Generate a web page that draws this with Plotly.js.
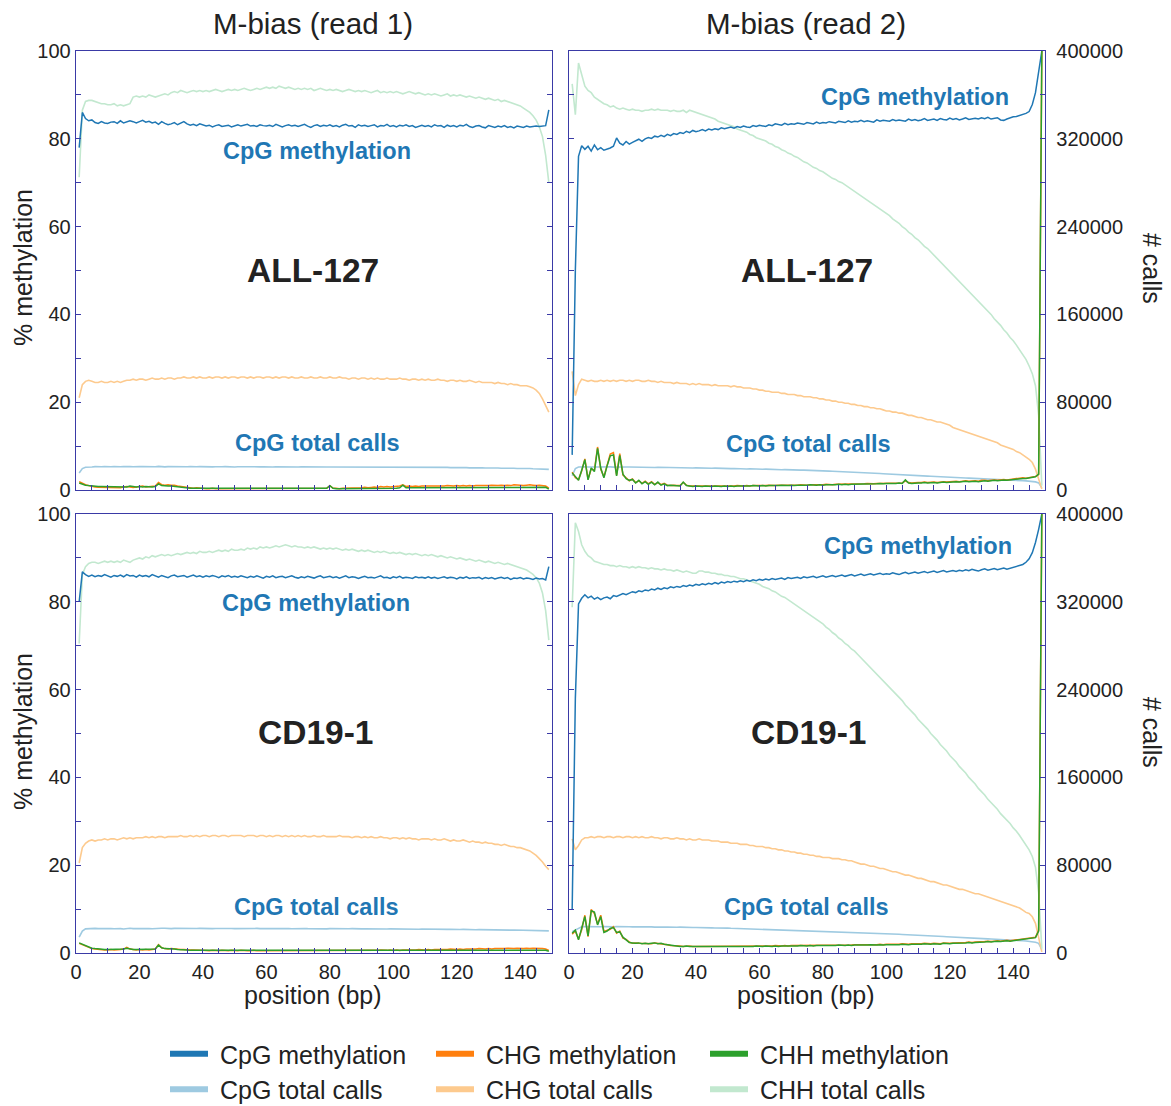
<!DOCTYPE html>
<html>
<head>
<meta charset="utf-8">
<script src="https://cdn.plot.ly/plotly-3.0.1.min.js"></script>
<style>html,body{margin:0;padding:0;background:#fff;}#chart{width:1171px;height:1106px;}</style>
</head>
<body>
<div id="chart"></div>
<script>
// ---------------- DATA ----------------
const positionBp = Array.from({length:149}, (_, i) => i + 1);

const panelTitles = ["M-bias (read 1)", "M-bias (read 2)"];
const sampleNames = ["ALL-127", "CD19-1"];
const seriesNames = ["CpG methylation","CHG methylation","CHH methylation","CpG total calls","CHG total calls","CHH total calls"];

// ALL-127, read 1 (methylation in %, calls in thousands)
const all127_r1_cpgMeth = [78.0,86.0,84.6,84.1,84.3,83.7,83.5,83.9,83.6,83.5, 83.8,83.9,83.5,84.1,83.6,83.8,84.1,83.9,83.6,83.9, 84.2,83.8,84.0,83.6,83.8,83.3,83.9,83.5,83.2,83.4, 83.7,83.2,83.5,83.9,83.4,83.1,83.3,83.0,83.4,83.2, 82.9,83.1,82.7,83.0,83.2,82.8,82.9,83.1,82.7,83.0, 83.2,82.9,83.1,83.3,82.9,83.0,82.8,83.2,83.0,82.9, 83.1,82.8,83.3,83.0,82.7,83.0,83.2,82.9,83.1,82.8, 83.0,83.3,82.9,82.6,83.0,83.2,82.8,83.1,82.9,83.2, 82.8,83.0,82.7,83.1,83.3,82.9,83.0,82.6,83.2,82.9, 83.1,82.8,83.0,83.2,82.7,83.0,82.9,83.3,82.8,83.0, 82.7,83.1,82.9,83.2,82.8,83.0,82.6,82.9,83.1,82.8, 83.0,82.7,83.2,82.9,83.0,82.6,83.1,82.8,83.0,82.7, 83.1,82.9,83.3,82.8,82.6,82.9,83.0,82.7,82.5,83.0, 82.8,82.6,82.9,82.7,83.0,82.6,82.8,82.5,82.9,82.7, 82.6,82.9,82.7,82.8,82.9,82.8,82.9,83.0,86.6];
const all127_r1_chgMeth = [1.9,1.5,1.2,1.0,0.8,0.7,0.6,0.6,0.5,0.5, 0.6,0.5,0.6,0.5,0.7,0.8,0.7,0.6,0.7,0.8, 0.9,0.7,0.8,0.8,0.9,1.7,1.2,1.1,1.2,1.1, 1.1,0.9,0.8,0.6,0.5,0.5,0.4,0.5,0.4,0.4, 0.3,0.3,0.4,0.3,0.3,0.3,0.4,0.3,0.3,0.3, 0.4,0.3,0.3,0.3,0.4,0.3,0.3,0.4,0.3,0.3, 0.3,0.4,0.3,0.3,0.3,0.4,0.3,0.3,0.4,0.3, 0.3,0.3,0.4,0.3,0.3,0.4,0.3,0.3,0.4,1.0, 0.4,0.4,0.3,0.4,0.4,0.5,0.4,0.4,0.5,0.5, 0.6,0.5,0.6,0.7,0.6,0.8,0.7,0.8,0.7,0.8, 0.8,0.9,1.2,0.8,0.9,0.8,0.9,0.8,0.9,0.9, 0.8,0.9,0.9,0.8,0.9,0.9,1.0,0.9,0.9,1.0, 0.9,1.0,0.9,1.0,0.9,1.0,1.0,0.9,1.0,1.0, 1.1,1.0,1.0,1.1,1.0,1.1,1.0,1.2,1.1,1.1, 1.0,1.1,1.2,1.1,1.0,1.1,1.0,0.9,0.4];
const all127_r1_chhMeth = [1.6,1.3,1.1,1.0,0.9,0.9,0.8,0.8,0.8,0.7, 0.7,0.7,0.7,0.8,0.7,0.7,0.9,0.8,0.7,0.8, 0.7,0.8,0.7,0.7,0.8,1.4,1.0,0.9,0.9,0.9, 0.8,0.8,0.7,0.6,0.5,0.4,0.4,0.4,0.3,0.3, 0.3,0.3,0.3,0.3,0.3,0.3,0.3,0.3,0.3,0.3, 0.3,0.3,0.3,0.3,0.3,0.3,0.3,0.3,0.3,0.3, 0.3,0.3,0.3,0.3,0.3,0.3,0.3,0.3,0.3,0.3, 0.3,0.3,0.3,0.3,0.3,0.3,0.3,0.3,0.4,1.0, 0.4,0.3,0.3,0.3,0.3,0.3,0.3,0.3,0.3,0.4, 0.4,0.4,0.4,0.4,0.4,0.4,0.4,0.4,0.4,0.4, 0.4,0.5,1.1,0.5,0.5,0.5,0.5,0.5,0.5,0.5, 0.5,0.5,0.5,0.5,0.5,0.5,0.5,0.5,0.5,0.5, 0.5,0.5,0.5,0.5,0.6,0.5,0.5,0.6,0.5,0.6, 0.6,0.5,0.6,0.6,0.6,0.6,0.6,0.6,0.6,0.6, 0.6,0.6,0.6,0.6,0.6,0.6,0.6,0.6,0.2];
const all127_r1_cpgCallsK = [15.5,19.5,20.8,21.2,21.0,21.3,21.1,21.2,21.4,21.1, 21.2,21.3,21.0,21.2,21.4,21.1,21.3,21.2,21.0,21.3, 21.4,21.2,21.1,21.3,21.2,21.5,21.2,21.1,21.3,21.2, 21.4,21.2,21.1,21.3,21.2,21.4,21.1,21.2,21.3,21.1, 21.2,21.3,21.1,21.2,21.0,21.2,21.3,21.1,21.2,21.0, 21.2,21.1,21.3,21.0,21.1,21.2,21.0,21.1,21.2,21.0, 21.1,21.0,21.2,21.1,20.9,21.1,21.0,21.2,21.0,20.9, 21.1,21.0,20.9,21.1,21.0,20.9,21.1,21.0,20.9,21.0, 21.0,20.9,21.1,20.9,21.0,20.8,21.0,20.9,20.8,21.0, 20.9,20.8,21.0,20.9,20.8,20.9,20.8,21.0,20.8,20.9, 20.8,20.7,20.9,20.8,20.7,20.8,20.6,20.8,20.7,20.6, 20.7,20.6,20.5,20.7,20.6,20.5,20.6,20.4,20.5,20.4, 20.4,20.3,20.4,20.2,20.3,20.2,20.1,20.2,20.0,20.1, 20.0,19.9,20.0,19.8,19.9,19.8,19.7,19.8,19.6,19.7, 19.6,19.5,19.6,19.4,19.4,19.3,19.3,19.1,18.8];
const all127_r1_chgCallsK = [84,96,99,100,99,98,98,99,98,98, 99,98,99,98,99,100,100,101,100,101, 101,100,101,102,101,101,102,101,102,102, 101,102,102,103,102,102,103,102,103,102, 102,103,102,103,103,102,103,102,103,103, 102,103,103,102,103,102,103,103,102,103, 103,102,103,102,103,103,102,103,102,102, 103,102,102,103,102,102,103,102,102,103, 102,102,103,102,102,101,102,102,101,102, 102,101,102,101,102,101,101,102,101,101, 101,102,101,101,100,101,101,100,101,100, 101,100,100,101,100,100,99,100,100,99, 100,99,99,100,99,98,99,98,98,98, 98,97,98,97,97,96,97,96,96,95, 95,95,94,93,91,88,83,77,71];
const all127_r1_chhCallsK = [285,346,354,355,355,354,353,352,352,351, 351,352,350,351,350,351,352,358,359,358, 359,358,360,359,358,359,360,361,360,362, 363,362,364,363,362,363,364,363,364,363, 364,363,364,365,364,363,364,365,364,365, 364,365,366,365,364,365,366,365,366,367, 366,367,366,368,367,366,367,366,365,366, 365,366,365,366,364,365,366,365,364,365, 364,365,364,363,364,365,364,363,364,363, 364,363,362,363,364,362,363,362,363,362, 363,362,361,362,363,362,361,362,361,360, 361,360,361,360,359,360,361,359,360,359, 360,359,358,359,358,357,358,357,356,357, 356,355,356,354,355,354,353,352,351,350, 348,346,344,341,337,331,322,305,280];

// ALL-127, read 2
const all127_r2_cpgMeth = [8.0,50.0,76.0,78.4,77.6,78.3,77.2,78.6,77.5,78.0, 77.4,77.6,77.9,78.3,80.2,79.0,78.6,79.4,78.8,79.2, 79.6,79.9,79.4,80.0,80.3,80.1,80.6,80.4,80.8,80.5, 81.0,80.7,81.2,81.0,81.4,81.2,81.7,81.4,81.9,81.6, 81.8,82.1,81.8,82.2,82.0,82.3,82.1,82.5,82.3,82.5, 82.7,82.4,82.8,82.6,82.9,82.7,82.6,83.0,82.8,83.1, 83.0,82.8,83.2,83.0,83.4,83.2,83.1,83.5,83.2,83.4, 83.3,83.6,83.4,83.3,83.7,83.5,83.4,83.8,83.5,83.7, 83.6,83.9,83.7,83.6,84.0,83.8,83.7,84.1,83.8,84.0, 83.9,84.2,83.9,84.1,84.0,83.8,84.3,84.0,84.2,84.1, 84.0,84.4,84.1,84.3,84.2,84.0,84.5,84.2,84.4,84.1, 84.3,84.6,84.2,84.4,84.5,84.2,84.6,84.4,84.3,84.7, 84.4,84.6,84.3,84.5,84.8,84.4,84.6,84.7,84.5,84.8, 84.6,84.9,84.5,84.7,84.8,84.3,84.2,84.5,84.8,85.0, 85.1,85.3,85.5,85.8,86.2,87.8,90.5,95.0,100.0];
const all127_r2_chgMeth = [4.1,2.8,2.4,4.3,7.1,2.5,4.8,4.5,9.8,4.7, 3.0,5.8,8.2,8.5,3.4,8.3,3.4,2.8,2.1,2.5, 1.7,2.1,1.5,2.0,1.4,1.9,1.3,1.7,1.2,1.5, 1.1,1.0,1.1,1.0,1.0,1.7,1.1,0.9,0.9,0.9, 0.9,0.8,0.9,0.9,0.8,0.9,0.9,0.8,0.9,0.9, 0.9,0.9,1.0,0.9,0.9,1.0,0.9,1.0,1.0,0.9, 1.0,1.0,1.1,1.0,1.0,1.1,1.1,1.0,1.1,1.1, 1.1,1.1,1.2,1.1,1.1,1.2,1.2,1.1,1.2,1.2, 1.3,1.2,1.2,1.3,1.3,1.3,1.4,1.3,1.3,1.4, 1.4,1.4,1.4,1.5,1.4,1.4,1.5,1.5,1.5,1.6, 1.6,1.5,1.6,1.6,1.6,2.1,1.7,1.6,1.7,1.7, 1.7,1.8,1.7,1.8,1.8,1.7,1.8,1.9,1.8,1.9, 1.9,2.0,1.9,2.0,2.1,2.0,2.1,2.1,2.0,2.2, 2.2,2.1,2.2,2.3,2.2,2.3,2.4,2.3,2.4,2.4, 2.5,2.6,2.8,2.7,2.8,3.0,3.1,3.5,100.0];
const all127_r2_chhMeth = [3.9,3.0,2.2,4.5,6.9,2.3,5.0,4.2,9.5,5.0, 2.8,5.5,7.8,8.0,3.2,7.9,3.6,2.6,2.2,2.4, 1.6,2.2,1.4,1.9,1.3,1.8,1.2,1.8,1.1,1.4, 1.0,1.1,1.0,1.0,0.9,1.8,1.0,0.9,0.8,0.9, 0.8,0.8,0.9,0.8,0.8,0.9,0.8,0.8,0.9,0.8, 0.9,0.8,0.9,0.9,0.8,0.9,0.9,1.0,0.9,0.9, 1.0,0.9,1.0,1.0,0.9,1.0,1.1,1.0,1.0,1.1, 1.0,1.1,1.1,1.0,1.1,1.2,1.1,1.1,1.2,1.1, 1.2,1.2,1.1,1.2,1.3,1.2,1.3,1.2,1.3,1.3, 1.3,1.4,1.3,1.4,1.4,1.3,1.4,1.5,1.4,1.5, 1.5,1.4,1.5,1.6,1.5,2.3,1.6,1.5,1.6,1.6, 1.6,1.7,1.6,1.7,1.7,1.6,1.7,1.8,1.7,1.8, 1.8,1.9,1.8,1.9,2.0,1.9,2.0,2.0,1.9,2.0, 2.1,2.0,2.1,2.2,2.1,2.2,2.3,2.2,2.3,2.3, 2.4,2.5,2.6,2.6,2.7,2.8,3.0,3.6,100.0];
const all127_r2_cpgCallsK = [13.0,19.5,21.0,21.3,21.1,21.0,21.2,21.0,20.9,21.1, 21.0,20.9,21.1,20.8,21.0,20.9,20.8,21.0,20.9,20.8, 20.9,20.7,20.8,20.6,20.8,20.7,20.5,20.7,20.6,20.5, 20.6,20.4,20.5,20.3,20.4,20.3,20.2,20.3,20.1,20.2, 20.0,20.1,19.9,20.0,19.8,19.9,19.7,19.8,19.6,19.6, 19.5,19.6,19.4,19.4,19.3,19.2,19.3,19.1,19.1,19.0, 18.9,19.0,18.8,18.7,18.8,18.6,18.5,18.6,18.4,18.3, 18.3,18.2,18.1,18.1,17.9,17.9,17.8,17.7,17.7,17.6, 17.3,17.2,17.1,17.0,16.9,16.7,16.6,16.5,16.4,16.2, 16.1,15.9,15.8,15.6,15.5,15.3,15.1,15.0,14.8,14.6, 14.5,14.3,14.2,14.0,13.8,13.7,13.5,13.4,13.2,13.1, 12.9,12.8,12.6,12.5,12.3,12.2,12.0,11.9,11.8,11.6, 11.5,11.3,11.2,11.1,10.9,10.8,10.7,10.5,10.4,10.3, 10.1,10.0,9.9,9.7,9.6,9.5,9.3,9.2,9.0,8.9, 8.8,8.6,8.5,8.3,8.1,7.8,7.4,6.5,2.0];
const all127_r2_chgCallsK = [108,86,96,101,100,99,100,99,99,100, 99,100,99,100,99,100,100,99,100,99, 100,100,99,99,100,99,99,98,99,98, 98,98,97,98,97,97,97,96,97,96, 97,96,96,96,95,96,95,95,95,95, 94,95,94,94,93,93,93,92,92,91, 91,90,90,89,89,89,88,88,87,87, 87,86,86,85,85,85,84,84,83,83, 82,82,81,81,80,80,79,79,78,78, 77,77,76,76,75,75,74,74,73,72, 72,71,71,70,70,69,68,68,67,66, 66,65,64,64,63,62,62,61,60,59, 57,56,55,54,53,52,51,50,49,48, 47,46,45,44,43,41,40,39,38,37, 35,34,32,30,28,25,19,10,1];
const all127_r2_chhCallsK = [370,342,389,378,368,364,362,358,356,354, 352,351,349,350,348,347,348,347,346,347, 346,346,345,346,346,347,346,347,346,346, 346,345,346,345,345,346,344,346,345,344, 343,342,341,340,339,338,336,335,334,333, 332,331,329,328,327,326,324,323,321,320, 319,318,316,315,313,312,310,309,307,306, 304,303,301,299,298,296,294,293,291,290, 288,286,284,283,281,280,278,276,274,272, 270,268,266,264,262,260,258,256,254,252, 250,247,245,243,240,238,235,233,230,228, 225,222,220,217,214,211,208,205,202,199, 196,193,190,187,184,181,178,175,172,169, 166,163,160,156,153,150,146,143,139,136, 132,128,124,119,113,106,95,68,4];

// CD19-1, read 1
const cd19_r1_cpgMeth = [80.0,86.8,86.2,85.8,86.1,85.7,86.0,85.8,86.2,85.9, 85.6,86.0,85.8,86.1,85.7,86.2,85.9,86.0,85.6,86.1, 85.8,86.0,85.7,86.2,85.9,85.6,86.0,85.8,85.5,85.9, 86.1,85.7,85.9,86.0,85.6,85.8,86.1,85.7,85.9,85.6, 85.9,85.7,86.0,85.8,85.5,85.9,85.7,86.0,85.6,85.8, 85.6,85.9,85.7,85.5,85.8,85.6,85.9,85.7,85.4,85.8, 85.6,85.9,85.5,85.7,85.8,85.5,85.7,85.9,85.6,85.4, 85.7,85.5,85.8,85.6,85.4,85.7,85.9,85.5,85.6,85.8, 85.5,85.7,85.4,85.6,85.9,85.5,85.7,85.6,85.3,85.6, 85.8,85.5,85.6,85.4,85.7,85.9,85.5,85.6,85.3,85.7, 85.5,85.8,85.4,85.6,85.5,85.3,85.7,85.5,85.6,85.4, 85.7,85.4,85.6,85.3,85.5,85.7,85.4,85.6,85.5,85.2, 85.6,85.4,85.7,85.3,85.5,85.4,85.6,85.2,85.5,85.3, 85.5,85.2,85.4,85.6,85.3,85.5,85.1,85.4,85.3,85.5, 85.2,85.4,85.3,85.1,85.4,85.2,85.3,85.0,88.0];
const cd19_r1_chgMeth = [2.2,1.9,1.6,1.2,1.0,0.9,0.8,0.8,0.7,0.7, 0.8,0.7,0.7,0.8,0.9,1.3,0.9,0.8,0.7,0.8, 0.7,0.8,0.7,0.8,0.9,1.9,1.2,1.0,0.9,1.0, 0.9,0.9,0.8,0.8,0.7,0.7,0.7,0.6,0.6,0.6, 0.5,0.5,0.6,0.5,0.5,0.6,0.5,0.5,0.6,0.5, 0.5,0.6,0.5,0.5,0.5,0.6,0.5,0.5,0.6,0.5, 0.5,0.5,0.6,0.5,0.5,0.5,0.6,0.5,0.5,0.6, 0.5,0.5,0.5,0.6,0.5,0.5,0.6,0.5,0.5,0.5, 0.6,0.5,0.5,0.6,0.5,0.6,0.5,0.6,0.6,0.5, 0.6,0.6,0.5,0.6,0.6,0.7,0.6,0.6,0.7,0.6, 0.7,0.6,0.7,0.7,0.6,0.7,0.7,0.8,0.7,0.7, 0.8,0.7,0.8,0.8,0.7,0.8,0.8,0.9,0.8,0.8, 0.9,0.8,0.9,0.9,0.8,0.9,1.0,0.9,0.9,1.0, 0.9,1.0,1.0,0.9,1.0,1.1,1.0,1.0,1.1,1.0, 1.0,1.1,1.0,1.1,1.1,1.0,1.0,0.9,0.6];
const cd19_r1_chhMeth = [2.3,2.0,1.6,1.3,1.1,1.0,0.9,0.9,0.8,0.8, 0.8,0.8,0.8,0.8,0.9,1.1,0.9,0.8,0.8,0.8, 0.8,0.8,0.8,0.8,0.9,1.8,1.2,1.0,1.0,0.9, 0.9,0.8,0.8,0.7,0.7,0.6,0.6,0.6,0.5,0.5, 0.5,0.5,0.5,0.5,0.5,0.5,0.5,0.5,0.5,0.5, 0.5,0.5,0.5,0.5,0.5,0.5,0.5,0.5,0.5,0.5, 0.5,0.5,0.5,0.5,0.5,0.5,0.5,0.5,0.5,0.5, 0.5,0.5,0.5,0.5,0.5,0.5,0.5,0.5,0.5,0.5, 0.5,0.5,0.5,0.5,0.5,0.5,0.5,0.5,0.5,0.5, 0.5,0.5,0.5,0.5,0.5,0.5,0.5,0.5,0.5,0.5, 0.5,0.5,0.5,0.5,0.5,0.5,0.5,0.5,0.5,0.5, 0.5,0.5,0.5,0.5,0.6,0.5,0.5,0.6,0.5,0.6, 0.6,0.5,0.6,0.6,0.6,0.6,0.6,0.6,0.6,0.6, 0.6,0.6,0.6,0.6,0.6,0.6,0.6,0.6,0.6,0.6, 0.6,0.6,0.6,0.6,0.6,0.6,0.6,0.6,0.4];
const cd19_r1_cpgCallsK = [14.5,20.0,22.0,22.3,22.1,22.4,22.2,22.3,22.5,22.2, 22.3,22.1,22.4,22.2,21.9,22.3,22.5,22.2,22.3,22.1, 22.4,22.2,22.3,22.1,22.4,22.2,22.5,22.6,22.3,22.2, 22.4,22.3,22.2,22.4,22.3,22.5,22.2,22.3,22.4,22.2, 22.3,22.4,22.2,22.3,22.4,22.2,22.3,22.5,22.3,22.2, 22.3,22.2,22.4,22.3,22.2,22.3,22.4,22.2,22.3,22.2, 22.3,22.2,22.1,22.3,22.2,22.4,22.2,22.1,22.3,22.2, 22.1,22.3,22.2,22.1,22.2,22.3,22.1,22.2,22.0,22.2, 22.1,22.0,22.2,22.1,22.0,22.1,22.2,22.0,22.1,22.0, 22.1,22.0,21.9,22.1,22.0,21.9,22.0,21.8,22.0,21.9, 21.9,21.8,21.9,21.8,21.9,21.7,21.8,21.7,21.8,21.7, 21.7,21.6,21.7,21.6,21.5,21.6,21.5,21.6,21.4,21.5, 21.4,21.5,21.3,21.4,21.3,21.2,21.3,21.2,21.1,21.2, 21.1,21.0,21.1,20.9,21.0,20.9,20.8,20.9,20.8,20.7, 20.8,20.7,20.6,20.7,20.6,20.5,20.5,20.4,20.2];
const cd19_r1_chgCallsK = [82,96,100,102,103,102,103,103,104,103, 104,104,103,104,105,104,105,104,105,105, 105,106,105,106,105,106,106,105,106,106, 106,106,107,106,106,107,106,107,106,107, 107,106,107,107,106,107,107,106,107,107, 107,107,106,107,107,107,106,107,107,106, 107,106,107,107,106,107,106,107,106,107, 106,107,106,106,107,106,106,107,106,106, 106,106,107,106,106,106,105,106,106,105, 106,105,106,105,105,106,105,105,104,105, 105,104,105,104,105,104,104,103,104,104, 104,103,104,103,103,104,103,102,103,102, 102,103,102,101,102,101,101,100,101,100, 100,99,99,98,99,98,97,97,96,96, 95,94,93,91,89,86,83,79,76];
const cd19_r1_chhCallsK = [282,345,352,355,356,356,355,356,357,356, 357,356,357,356,358,357,356,358,359,360, 359,361,360,362,361,362,363,362,363,362, 363,364,363,364,365,364,365,364,366,365, 365,366,365,366,367,366,367,366,368,367, 367,368,367,369,368,369,368,370,369,370, 369,370,371,370,371,372,371,370,371,370, 370,369,370,369,370,369,368,369,368,369, 368,369,368,367,368,367,368,367,366,367, 366,367,366,365,366,365,366,365,364,365, 364,365,364,363,364,363,364,363,362,363, 362,363,362,361,362,361,360,361,360,359, 360,359,358,359,358,357,358,357,356,357, 356,355,356,355,354,355,354,353,352,351, 350,349,347,345,342,337,328,312,285];

// CD19-1, read 2
const cd19_r2_cpgMeth = [10.0,58.0,79.5,80.8,81.6,80.9,81.3,80.6,81.0,80.5, 80.9,81.1,80.7,81.4,81.2,81.6,81.9,81.6,82.0,82.3, 82.1,82.5,82.3,82.7,82.5,82.9,82.7,83.1,82.8,83.2, 83.0,83.4,83.2,83.5,83.3,83.7,83.5,83.8,83.6,84.0, 83.8,84.1,83.9,84.2,84.0,84.4,84.1,84.5,84.3,84.6, 84.4,84.7,84.5,84.8,84.6,84.9,84.7,85.0,84.8,85.1, 84.9,85.2,85.0,85.3,85.1,85.2,85.4,85.1,85.5,85.3, 85.4,85.6,85.3,85.7,85.5,85.6,85.8,85.5,85.7,85.9, 85.6,85.8,86.0,85.7,85.9,86.1,85.8,86.0,86.2,85.9, 86.1,86.3,86.0,86.2,86.4,86.1,86.3,86.5,86.2,86.4, 86.3,86.6,86.4,86.2,86.5,86.7,86.4,86.6,86.8,86.5, 86.7,86.9,86.6,86.8,87.0,86.7,86.9,87.1,86.8,87.0, 87.1,86.9,87.2,87.0,87.3,87.1,87.4,87.2,87.0,87.3, 87.5,87.2,87.4,87.6,87.3,87.5,87.7,87.4,87.6,87.9, 88.0,88.2,88.5,89.0,89.8,91.2,93.5,96.5,100.0];
const cd19_r2_chgMeth = [4.3,5.0,3.2,5.3,8.6,3.7,9.9,9.0,6.6,8.6, 4.9,5.2,5.4,6.0,4.5,5.0,3.4,3.1,2.5,2.2, 2.3,2.2,2.2,2.1,2.2,2.1,2.3,2.2,2.1,2.1, 1.9,1.7,1.7,1.6,1.6,1.5,1.6,1.6,1.5,1.5, 1.5,1.5,1.5,1.6,1.5,1.5,1.5,1.6,1.5,1.5, 1.6,1.5,1.5,1.6,1.5,1.5,1.6,1.6,1.6,1.6, 1.6,1.6,1.6,1.6,1.7,1.6,1.6,1.7,1.6,1.7, 1.7,1.7,1.7,1.7,1.7,1.7,1.7,1.8,1.7,1.7, 1.8,1.7,1.7,1.8,1.8,1.8,1.8,1.8,1.8,1.9, 1.9,1.8,1.9,1.9,1.9,1.9,1.9,2.0,1.9,2.0, 2.0,1.9,2.0,2.0,2.1,2.0,2.0,2.1,2.1,2.0, 2.1,2.2,2.1,2.1,2.2,2.2,2.1,2.3,2.2,2.2, 2.3,2.3,2.4,2.3,2.4,2.5,2.4,2.5,2.5,2.6, 2.6,2.7,2.6,2.7,2.8,2.7,2.8,2.9,2.8,2.9, 3.0,3.0,3.1,3.2,3.3,3.4,3.6,5.2,100.0];
const cd19_r2_chhMeth = [4.5,5.2,3.0,5.5,8.3,3.9,9.6,9.3,6.4,8.3, 4.7,5.0,5.6,5.8,4.7,4.8,3.6,3.0,2.4,2.3, 2.2,2.3,2.1,2.2,2.1,2.2,2.3,2.1,2.2,2.0, 1.9,1.8,1.6,1.6,1.5,1.5,1.6,1.5,1.5,1.4, 1.5,1.4,1.5,1.5,1.4,1.5,1.4,1.5,1.5,1.4, 1.5,1.5,1.4,1.5,1.5,1.4,1.5,1.5,1.6,1.5, 1.5,1.6,1.5,1.5,1.6,1.5,1.6,1.6,1.5,1.6, 1.6,1.6,1.7,1.6,1.6,1.7,1.6,1.7,1.7,1.6, 1.7,1.7,1.6,1.7,1.8,1.7,1.7,1.8,1.7,1.8, 1.8,1.7,1.8,1.8,1.9,1.8,1.8,1.9,1.8,1.9, 1.9,1.8,1.9,1.9,2.0,1.9,1.9,2.0,2.0,1.9, 2.0,2.1,2.0,2.0,2.1,2.1,2.0,2.2,2.1,2.1, 2.2,2.2,2.3,2.2,2.3,2.4,2.3,2.4,2.4,2.5, 2.5,2.6,2.5,2.6,2.7,2.6,2.7,2.8,2.7,2.8, 2.9,2.9,3.0,3.1,3.2,3.3,3.5,5.0,100.0];
const cd19_r2_cpgCallsK = [19.5,21.0,22.5,23.8,24.0,23.9,24.1,23.8,24.0,23.9, 24.1,23.9,24.0,23.8,24.1,23.9,23.8,24.0,23.9,23.8, 23.9,23.7,23.8,23.9,23.7,23.8,23.6,23.8,23.7,23.6, 23.7,23.5,23.6,23.4,23.6,23.4,23.3,23.4,23.2,23.3, 23.1,23.2,23.0,23.1,22.9,22.8,22.9,22.7,22.6,22.7, 22.5,22.4,22.5,22.3,22.2,22.3,22.1,22.0,22.0,21.9, 21.8,21.7,21.7,21.5,21.5,21.4,21.3,21.2,21.1,21.0, 20.9,20.9,20.7,20.7,20.5,20.5,20.3,20.3,20.1,20.0, 20.0,19.8,19.8,19.6,19.6,19.4,19.3,19.2,19.1,18.9, 18.8,18.7,18.6,18.4,18.3,18.2,18.0,17.9,17.8,17.6, 17.5,17.3,17.2,17.1,16.9,16.8,16.6,16.5,16.3,16.2, 16.0,15.9,15.7,15.6,15.4,15.3,15.1,15.0,14.8,14.7, 14.5,14.4,14.2,14.1,13.9,13.8,13.6,13.5,13.3,13.2, 13.0,12.9,12.7,12.6,12.4,12.3,12.1,12.0,11.8,11.7, 11.5,11.3,11.1,10.9,10.6,10.3,9.8,8.8,3.0];
const cd19_r2_chgCallsK = [104,94,98,103,105,105,106,105,106,106, 105,106,106,105,106,106,105,106,106,105, 106,105,106,105,105,106,105,105,104,105, 105,104,104,105,104,104,103,104,103,103, 104,103,103,103,102,102,102,101,101,101, 100,100,100,99,99,99,98,98,97,97, 97,96,96,95,95,94,94,93,93,92, 92,91,91,90,90,89,89,88,88,87, 87,87,86,86,86,85,85,84,84,83, 82,81,81,80,79,79,78,77,77,76, 75,74,74,73,72,71,71,70,69,68, 68,67,66,65,65,64,63,62,62,61, 60,59,58,58,57,56,55,54,54,53, 52,51,50,49,48,47,46,45,44,43, 42,41,39,37,36,33,27,14,1];
const cd19_r2_chhCallsK = [315,392,384,372,366,362,360,357,356,355, 354,354,353,353,352,353,352,352,351,352, 351,352,351,351,350,351,350,350,349,350, 349,349,348,349,348,347,348,347,346,346, 348,348,347,347,346,346,345,345,344,344, 343,343,342,341,341,340,339,338,337,336, 334,333,332,330,329,327,325,324,322,320, 318,316,314,312,310,308,306,304,302,300, 297,295,292,290,287,285,282,280,277,275, 272,269,266,263,260,257,254,251,248,245, 242,239,236,233,230,226,223,220,217,213, 210,207,204,200,197,194,190,187,184,180, 177,174,170,167,164,160,157,154,150,147, 144,140,137,134,131,127,124,121,118,114, 111,107,103,99,94,88,78,55,4];

// ---------------- STYLE ----------------
const W = 1171, H = 1106;
const px = x => x / W, py = y => 1 - y / H;
const FONT = "Liberation Sans, Arial, Helvetica, sans-serif";
const frame = "#3a3aa6";
const textCol = "#222222";
const colors = {
  cpgMeth: "#1f77b4", chgMeth: "#ff7f0e", chhMeth: "#2ca02c",
  cpgCalls: "#9ecae1", chgCalls: "#fdca8e", chhCalls: "#c2e8cf"
};

const panels = [
  {sample: sampleNames[0], read: 0, d: {cpgMeth: all127_r1_cpgMeth, chgMeth: all127_r1_chgMeth, chhMeth: all127_r1_chhMeth, cpgCalls: all127_r1_cpgCallsK, chgCalls: all127_r1_chgCallsK, chhCalls: all127_r1_chhCallsK}},
  {sample: sampleNames[0], read: 1, d: {cpgMeth: all127_r2_cpgMeth, chgMeth: all127_r2_chgMeth, chhMeth: all127_r2_chhMeth, cpgCalls: all127_r2_cpgCallsK, chgCalls: all127_r2_chgCallsK, chhCalls: all127_r2_chhCallsK}},
  {sample: sampleNames[1], read: 0, d: {cpgMeth: cd19_r1_cpgMeth, chgMeth: cd19_r1_chgMeth, chhMeth: cd19_r1_chhMeth, cpgCalls: cd19_r1_cpgCallsK, chgCalls: cd19_r1_chgCallsK, chhCalls: cd19_r1_chhCallsK}},
  {sample: sampleNames[1], read: 1, d: {cpgMeth: cd19_r2_cpgMeth, chgMeth: cd19_r2_chgMeth, chhMeth: cd19_r2_chhMeth, cpgCalls: cd19_r2_cpgCallsK, chgCalls: cd19_r2_chgCallsK, chhCalls: cd19_r2_chhCallsK}}
];

const xDomains = [[px(76), px(552)], [px(569), px(1045)]];
const yDomains = [[py(490), py(51)], [py(953), py(514)]];

const tickFont = {family: FONT, size: 20, color: textCol};
const legendFont = {family: FONT, size: 25, color: textCol};
const legendBase = {orientation: "v", xanchor: "left", yanchor: "top", y: py(1031),
  font: legendFont, bgcolor: "rgba(0,0,0,0)", tracegroupgap: 0, itemwidth: 38, borderwidth: 0};
const data = [];
const layout = {
  width: W, height: H,
  margin: {l: 0, r: 0, t: 0, b: 0, autoexpand: false},
  paper_bgcolor: "#ffffff", plot_bgcolor: "rgba(0,0,0,0)",
  showlegend: true,
  legend: Object.assign({x: px(165)}, legendBase),
  legend2: Object.assign({x: px(431)}, legendBase),
  legend3: Object.assign({x: px(705)}, legendBase),
  annotations: []
};

panels.forEach((p, idx) => {
  const i = idx + 1;
  const col = idx % 2, row = Math.floor(idx / 2);
  const xName = i === 1 ? "x" : "x" + i;
  const yCallsN = 2 * i - 1, yPctN = 2 * i;
  const yCalls = yCallsN === 1 ? "y" : "y" + yCallsN;
  const yPct = "y" + yPctN;
  layout["xaxis" + (i === 1 ? "" : i)] = {
    domain: xDomains[col], anchor: yCalls, range: [0, 150],
    showline: true, linecolor: frame, linewidth: 1.3, mirror: true,
    ticks: "inside", ticklen: 5, tickwidth: 1, tickcolor: frame,
    tick0: 0, dtick: 20, minor: {dtick: 5, ticks: "inside", ticklen: 5, tickwidth: 1, tickcolor: frame},
    showticklabels: row === 1, tickfont: tickFont, ticklabelstandoff: 1,
    showgrid: false, zeroline: false
  };
  layout["yaxis" + (yCallsN === 1 ? "" : yCallsN)] = {
    domain: yDomains[row], anchor: xName, side: "right", range: [0, 400000],
    showline: true, linecolor: frame, linewidth: 1.3,
    ticks: "inside", ticklen: 5, tickwidth: 1, tickcolor: frame,
    tick0: 0, dtick: 80000, minor: {dtick: 40000, ticks: "inside", ticklen: 5, tickwidth: 1, tickcolor: frame},
    tickformat: "d", showticklabels: col === 1, tickfont: tickFont, ticklabelstandoff: 6,
    showgrid: false, zeroline: false
  };
  layout["yaxis" + yPctN] = {
    overlaying: yCalls, anchor: xName, side: "left", range: [0, 100],
    showline: true, linecolor: frame, linewidth: 1.3,
    ticks: "inside", ticklen: 5, tickwidth: 1, tickcolor: frame,
    tick0: 0, dtick: 20, minor: {dtick: 10, ticks: "inside", ticklen: 5, tickwidth: 1, tickcolor: frame},
    showticklabels: col === 0, tickfont: tickFont, showgrid: false, zeroline: false
  };
  // total calls on base axis (drawn below)
  ["cpgCalls", "chgCalls", "chhCalls"].forEach(k => {
    data.push({type: "scatter", mode: "lines", x: positionBp, y: p.d[k].map(v => v * 1000),
      xaxis: xName, yaxis: yCalls, showlegend: false, hoverinfo: "skip",
      line: {color: colors[k], width: 1.6}});
  });
  // methylation on overlaying % axis (drawn on top)
  ["cpgMeth", "chgMeth", "chhMeth"].forEach(k => {
    data.push({type: "scatter", mode: "lines", x: positionBp, y: p.d[k],
      xaxis: xName, yaxis: yPct, showlegend: false, hoverinfo: "skip",
      line: {color: colors[k], width: 1.5}});
  });
});

// legend entries (thick swatches), one legend per column
const legendKeys = ["cpgMeth", "chgMeth", "chhMeth", "cpgCalls", "chgCalls", "chhCalls"];
const legendIds = ["legend", "legend2", "legend3"];
[0, 3, 1, 4, 2, 5].forEach(j => {
  data.push({type: "scatter", mode: "lines", x: [null], y: [null], xaxis: "x", yaxis: "y2",
    name: "\u00a0" + seriesNames[j], showlegend: true, legend: legendIds[j % 3],
    line: {color: colors[legendKeys[j]], width: 6}});
});

function ann(text, x, y, size, color, opts) {
  layout.annotations.push(Object.assign({text, x: px(x), y: py(y), xref: "paper", yref: "paper",
    xanchor: "center", yanchor: "middle", showarrow: false,
    font: {family: FONT, size, color}}, opts || {}));
}
ann(panelTitles[0], 313, 23, 29.5, textCol);
ann(panelTitles[1], 806, 23, 29.5, textCol);
ann("% methylation", 23, 268, 25, textCol, {textangle: -90});
ann("% methylation", 23, 732, 25, textCol, {textangle: -90});
ann("# calls", 1152, 268, 25, textCol, {textangle: 90});
ann("# calls", 1152, 732, 25, textCol, {textangle: 90});
ann("position (bp)", 313, 995, 25, textCol);
ann("position (bp)", 806, 995, 25, textCol);

const boldBlue = (t, x, y) => ann(t, x, y, 23.5, colors.cpgMeth, {font: {family: FONT, size: 23.5, color: colors.cpgMeth, weight: "bold"}});
const boldBlack = (t, x, y) => ann(t, x, y, 33.5, textCol, {font: {family: FONT, size: 33.5, color: textCol, weight: "bold"}});
boldBlue(seriesNames[0], 317, 151); boldBlue(seriesNames[0], 915, 97);
boldBlue(seriesNames[0], 316, 603); boldBlue(seriesNames[0], 918, 546);
boldBlue(seriesNames[3], 317, 443); boldBlue(seriesNames[3], 808, 444);
boldBlue(seriesNames[3], 316, 907); boldBlue(seriesNames[3], 807, 907);
boldBlack(sampleNames[0], 313, 270); boldBlack(sampleNames[0], 807, 271);
boldBlack(sampleNames[1], 315, 733); boldBlack(sampleNames[1], 808, 733);

Plotly.newPlot("chart", data, layout, {displayModeBar: false, staticPlot: true});
</script>
</body>
</html>
